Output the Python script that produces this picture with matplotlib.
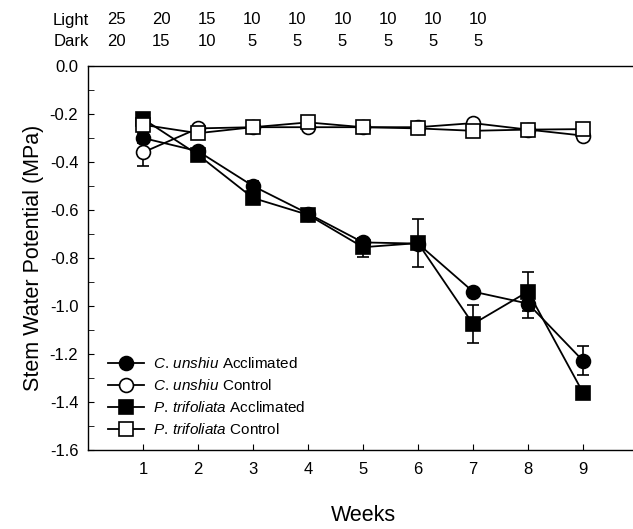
import matplotlib
matplotlib.use('Agg')
import matplotlib.pyplot as plt
from matplotlib.lines import Line2D
from matplotlib.ticker import MultipleLocator, FormatStrFormatter

plt.rcParams['font.family'] = ['Liberation Sans', 'DejaVu Sans']
plt.rcParams['mathtext.fontset'] = 'custom'
plt.rcParams['mathtext.it'] = 'Liberation Sans:italic'
plt.rcParams['mathtext.rm'] = 'Liberation Sans'

weeks = [1, 2, 3, 4, 5, 6, 7, 8, 9]
light = [25, 20, 15, 10, 10, 10, 10, 10, 10]
dark = [20, 15, 10, 5, 5, 5, 5, 5, 5]

cu_accl = [-0.30, -0.355, -0.50, -0.615, -0.735, -0.74, -0.94, -0.99, -1.228]
cu_accl_err = [0.02, 0.015, 0.02, 0.02, 0.02, 0.02, 0.015, 0.06, 0.06]
cu_ctrl = [-0.36, -0.26, -0.255, -0.255, -0.255, -0.255, -0.238, -0.265, -0.29]
cu_ctrl_err = [0.055, 0.01, 0.01, 0.01, 0.01, 0.01, 0.01, 0.01, 0.01]
pt_accl = [-0.22, -0.37, -0.55, -0.62, -0.755, -0.738, -1.075, -0.94, -1.361]
pt_accl_err = [0.02, 0.02, 0.02, 0.02, 0.04, 0.1, 0.08, 0.08, 0.02]
pt_ctrl = [-0.245, -0.28, -0.255, -0.235, -0.255, -0.26, -0.27, -0.265, -0.263]
pt_ctrl_err = [0.01, 0.01, 0.01, 0.01, 0.01, 0.01, 0.01, 0.01, 0.01]

fig = plt.figure(figsize=(6.33, 5.29), dpi=100)
W, H = 633, 529
ax = fig.add_axes([88 / W, 1 - 450 / H, 550 / W, 384 / H])

series = [
    (cu_accl, cu_accl_err, 'o', 'black', r'$\it{C.\,unshiu}$ Acclimated'),
    (cu_ctrl, cu_ctrl_err, 'o', 'white', r'$\it{C.\,unshiu}$ Control'),
    (pt_accl, pt_accl_err, 's', 'black', r'$\it{P.\,trifoliata}$ Acclimated'),
    (pt_ctrl, pt_ctrl_err, 's', 'white', r'$\it{P.\,trifoliata}$ Control'),
]
handles = []
for vals, err, mk, fc, lab in series:
    style = dict(marker=mk, markersize=10, markerfacecolor=fc,
                 markeredgecolor='black', markeredgewidth=1.2,
                 color='black', lw=1.3)
    ax.errorbar(weeks, vals, yerr=err, elinewidth=1.2, capsize=4,
                capthick=1.2, **style)
    handles.append(Line2D([], [], label=lab, **style))

ax.set_xlim(0, 10)
ax.set_ylim(-1.6, 0.0)
ax.set_xticks(weeks)
ax.yaxis.set_major_locator(MultipleLocator(0.2))
ax.yaxis.set_minor_locator(MultipleLocator(0.1))
ax.yaxis.set_major_formatter(FormatStrFormatter('%.1f'))
ax.tick_params(axis='both', direction='in', labelsize=12, length=4, pad=7)
ax.tick_params(axis='y', which='minor', direction='in', length=4)
ax.tick_params(axis='x', pad=9)
ax.spines['right'].set_visible(False)
for s in ax.spines.values():
    s.set_linewidth(1.0)

ax.set_xlabel('Weeks', fontsize=15.5, labelpad=20)
ax.set_ylabel('Stem Water Potential (MPa)', fontsize=15.5, labelpad=4)

ax.legend(handles=handles, loc='upper left', bbox_to_anchor=(0.026, 0.26),
          frameon=False, fontsize=11, handlelength=2.3, handletextpad=0.6,
          labelspacing=0.45, borderaxespad=0)

fig.text(89 / W, 1 - 20 / H, 'Light', ha='right', va='center', fontsize=12)
fig.text(89 / W, 1 - 41 / H, 'Dark', ha='right', va='center', fontsize=12)
for i, (l, d) in enumerate(zip(light, dark)):
    x = (116 + 45.3 * i) / W
    fig.text(x, 1 - 20 / H, str(l), ha='center', va='center', fontsize=12)
    fig.text(x, 1 - 41 / H, str(d), ha='center', va='center', fontsize=12)

fig.savefig('out.png', dpi=100)
